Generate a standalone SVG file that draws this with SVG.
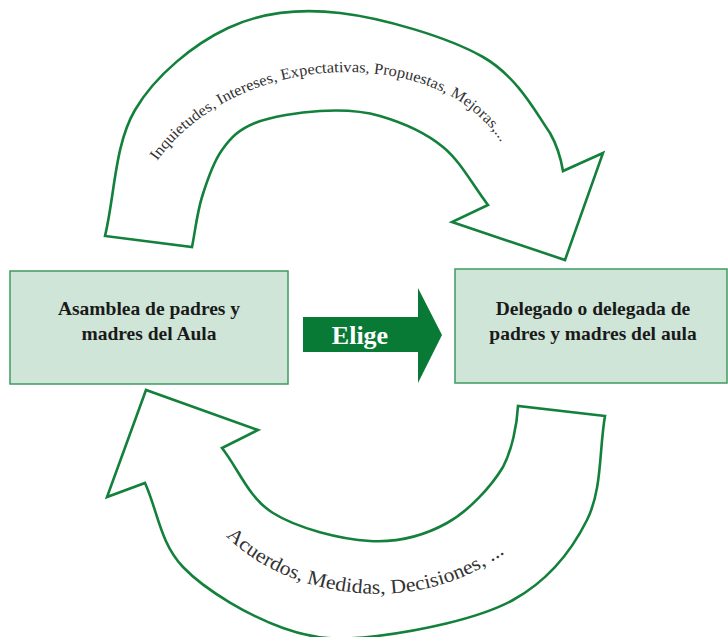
<svg xmlns="http://www.w3.org/2000/svg" width="728" height="637" viewBox="0 0 728 637">
  <style>
    .box { fill: #cfe5d7; stroke: #3f9a62; stroke-width: 1.5; }
    .boxtxt { font-family: "Liberation Serif", "DejaVu Serif", serif; font-weight: bold; font-size: 19.5px; fill: #1a1a1a; text-anchor: middle; }
    .cyc { fill: #ffffff; stroke: #13803b; stroke-width: 2.6; stroke-linejoin: miter; }
    .arctxt { font-family: "Liberation Serif", "DejaVu Serif", serif; fill: #333333; }
    .elige { fill: #087a35; }
    .eligetxt { font-family: "Liberation Serif", "DejaVu Serif", serif; font-weight: bold; font-size: 26px; fill: #ffffff; text-anchor: middle; }
  </style>
  <defs>
    <path id="topBase" d="M157,161 C185,122 235,88 300,76 C365,65 425,78 462,103 C482,117 496,132 504,148"/>
    <path id="botBase" d="M226,536 C255,565 300,588 360,593 C420,598 475,578 514,546"/>
  </defs>

  <g id="connectors">
    <g id="arrow-top">
      <path class="cyc" d="M105,236 C115,194 114.5,145 135,110 C155.5,75 194,44 228,28 C262,12 297.5,8 340,13 C382.5,18 448,37 483,57 C518,77 536.7,114 550,133 C558,147 561,159 563,171 L603,153 L565,260 L452,222 L488,205 C473,185.7 461,161.8 443,147 C425,132.2 400.5,122 380,116 C359.5,110 340.8,109.8 320,111 C299.2,112.2 271.3,116.5 255,123 C238.7,129.5 230.8,137.7 222,150 C213.2,162.3 207,180.8 202,197 C197,213.2 195.3,230.3 192,247 Z"/>
      <text class="arctxt" font-size="15.5"><textPath href="#topBase" textLength="394" lengthAdjust="spacingAndGlyphs">Inquietudes, Intereses, Expectativas, Propuestas, Mejoras,...</textPath></text>
    </g>
    <g id="arrow-bottom">
      <path class="cyc" d="M605,416 L518,406 C517,425 512,450 503,467 C491.2,486.5 469.2,510.7 447,523 C424.8,535.3 399,542.7 370,541 C341,539.3 297.7,528.5 273,513 C248.3,497.5 239,469.7 222,448 L258,430 L146,390 L107,497 L145,483 C157.7,511 160,542.8 183,567 C206,591.2 250.7,616.5 283,628 C315.3,639.5 338.7,640.7 377,636 C415.3,631.3 478,619.3 513,600 C548,580.7 571.7,550.7 587,520 C602.3,489.3 599,450.7 605,416 Z"/>
      <text class="arctxt" font-size="20"><textPath href="#botBase" textLength="302" lengthAdjust="spacingAndGlyphs">Acuerdos, Medidas, Decisiones, ...</textPath></text>
    </g>
    <g id="arrow-elige">
      <polygon class="elige" points="303,317 418,317 418,288 442,335 418,383 418,352 303,352"/>
      <text class="eligetxt" x="360" y="344">Elige</text>
    </g>
  </g>

  <g id="node-asamblea">
    <rect class="box" x="10" y="271" width="278" height="113"/>
    <text class="boxtxt" x="149" y="315">Asamblea de padres y</text>
    <text class="boxtxt" x="149" y="340">madres del Aula</text>
  </g>

  <g id="node-delegado">
    <rect class="box" x="455" y="269" width="272" height="114"/>
    <text class="boxtxt" x="593" y="315">Delegado o delegada de</text>
    <text class="boxtxt" x="593" y="340">padres y madres del aula</text>
  </g>
</svg>
